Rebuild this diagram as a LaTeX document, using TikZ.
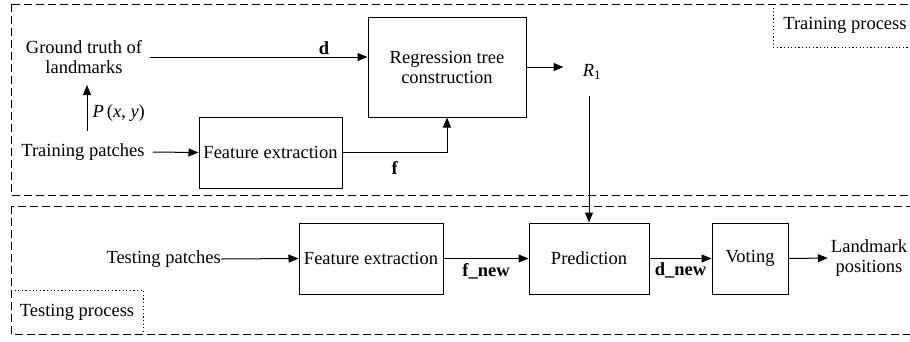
\documentclass[tikz,border=0pt]{standalone}
\usepackage{fontspec}
\setmainfont{Liberation Serif}
\usetikzlibrary{arrows.meta}
\begin{document}
\begin{tikzpicture}[x=1pt,y=-1pt,
  font=\fontsize{18.5}{21}\selectfont,
  blk/.style={draw, line width=1pt, inner sep=0pt, align=center, minimum width=#1},
  txt/.style={inner sep=0pt, align=center},
  arr/.style={line width=1pt, -{Triangle[length=10pt,width=8pt]}},
  dashbox/.style={draw, line width=1pt, dash pattern=on 8pt off 4pt},
  dotbox/.style={draw, line width=1pt, dash pattern=on 1.2pt off 2.4pt},
  lbl/.style={inner sep=2pt, font=\fontsize{18.5}{21}\selectfont\bfseries}]
\useasboundingbox (0,0) rectangle (910,341);
% process frames
\draw[dashbox] (11,4) rectangle (910.5,195);
\draw[dashbox] (11,206) rectangle (910.5,334);
\node[txt] (trp) at (845,25) {Training process};
\draw[dotbox] (773,4) -- (773,47) -- (910,47);
\node[txt] (tep) at (77,312) {Testing process};
\draw[dotbox] (11,290) -- (143,290) -- (143,334);
% training
\node[blk=158pt, minimum height=100pt] (reg) at (447,67) {Regression tree\\[-1pt]construction};
\node[txt] (gt) at (84,57) {Ground truth of\\[-1pt]landmarks};
\node[txt] (tp) at (83,152) {Training patches};
\node[blk=143pt, minimum height=71pt] (fe1) at (270.5,152.5) {Feature extraction};
\node[txt] (r1) at (592,72) {\textit{R}\textsubscript{1}};
\coordinate (pa) at (87,131);
\coordinate (pb) at (87,85);
\draw[arr] (pa) -- (pb) node[pos=0.39, right, inner sep=5pt] {\textit{P}\,(\textit{x}, \textit{y})};
\draw[arr] ([xshift=8pt]gt.east |- 0,57) -- (reg.west |- 0,57) node[pos=0.8, above, lbl] {d};
\draw[arr] ([xshift=8pt]tp.east) -- (fe1.west);
\draw[arr] (fe1.east) -| (reg.south) node[pos=0.25, below, lbl, inner sep=8pt] {f};
\draw[arr] (reg.east) -- ++(37,0);
% testing
\node[txt, anchor=east] (tsp) at (221,259) {Testing patches};
\node[blk=144pt, minimum height=71pt] (fe2) at (371,258.5) {Feature extraction};
\node[blk=120pt, minimum height=71pt] (pred) at (589,258.5) {Prediction};
\node[blk=76pt, minimum height=71pt] (vote) at (750,258.5) {Voting};
\node[txt, inner sep=3pt] (lp) at (869,258) {Landmark\\[-1pt]positions};
\draw[arr] ([yshift=-16pt]r1.south -| pred.north) -- (pred.north);
\draw[arr] (tsp.east) -- (fe2.west);
\draw[arr] (fe2.east) -- (pred.west) node[midway, below, lbl, inner sep=4pt] {f\_new};
\draw[arr] (pred.east) -- (vote.west) node[midway, below, lbl, inner sep=4pt] {d\_new};
\draw[arr] (vote.east) -- (lp.west);
\end{tikzpicture}
\end{document}
